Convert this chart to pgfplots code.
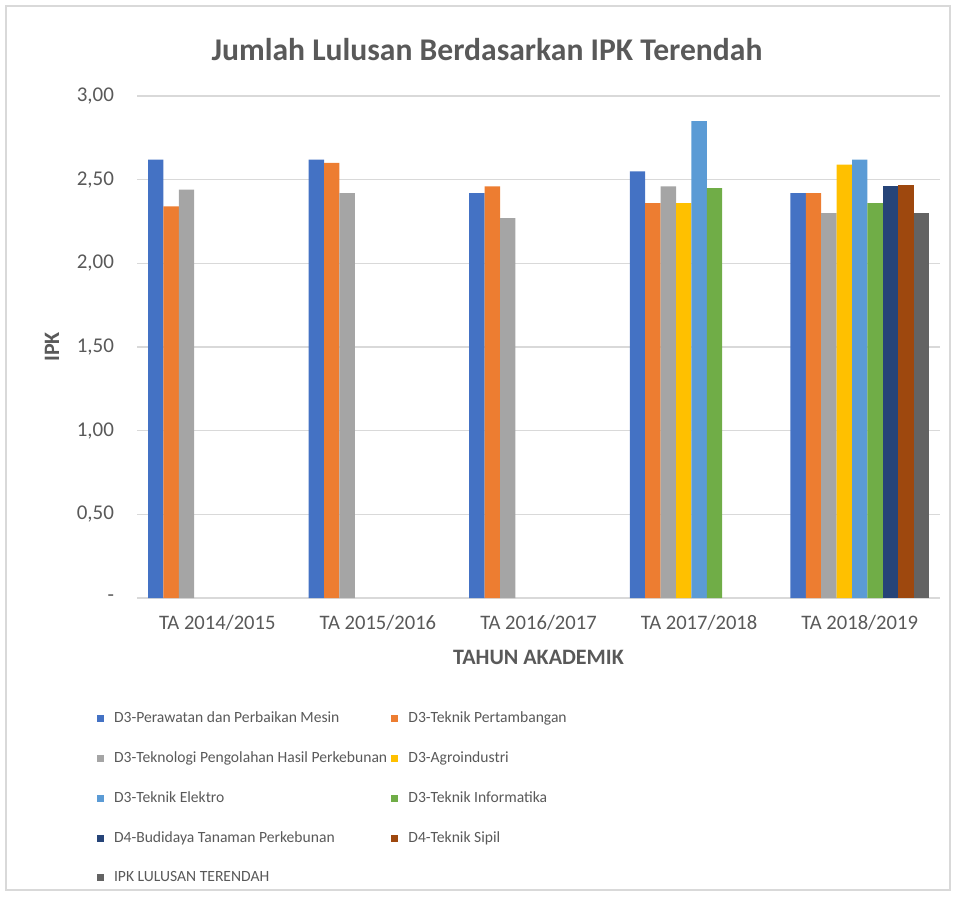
\documentclass[border=0pt]{standalone}
\usepackage{fontspec}
\setmainfont{Carlito}
\usepackage{pgfplots}
\pgfplotsset{compat=1.18}

\definecolor{txt}{HTML}{595959}
\definecolor{gridc}{HTML}{D9D9D9}
\definecolor{c1}{HTML}{4472C4}
\definecolor{c2}{HTML}{ED7D31}
\definecolor{c3}{HTML}{A5A5A5}
\definecolor{c4}{HTML}{FFC000}
\definecolor{c5}{HTML}{5B9BD5}
\definecolor{c6}{HTML}{70AD47}
\definecolor{c7}{HTML}{264478}
\definecolor{c8}{HTML}{9E480E}
\definecolor{c9}{HTML}{636363}

\begin{document}
\begin{tikzpicture}
\useasboundingbox (0,0) rectangle (478pt,448pt);
\draw[gridc, line width=0.6pt] (3pt,3pt) rectangle (475pt,445pt);

\node[font=\fontsize{15.8}{18}\selectfont\bfseries, text=txt] at (243.5pt,423pt)
  {Jumlah Lulusan Berdasarkan IPK Terendah};

\begin{axis}[
    at={(68.5pt,149pt)}, anchor=south west,
    width=401.5pt, height=251pt, scale only axis,
    ybar=0pt, bar width=7.7pt,
    xmin=-0.5, xmax=4.5,
    ymin=0, ymax=3,
    xtick={0,1,2,3,4},
    xticklabels={TA 2014/2015, TA 2015/2016, TA 2016/2017, TA 2017/2018, TA 2018/2019},
    ytick={0,0.5,1,1.5,2,2.5,3},
    yticklabels={{-},{0,50},{1,00},{1,50},{2,00},{2,50},{3,00}},
    x tick label style={font=\fontsize{10.3}{12}\selectfont, text=txt, yshift=-5pt},
    y tick label style={font=\fontsize{10.5}{12}\selectfont, text=txt, xshift=-8pt},
    major tick length=0pt,
    axis x line=bottom, axis y line=left,
    x axis line style={gridc, -, line width=0.8pt},
    y axis line style={draw=none},
    xmajorgrids=false, ymajorgrids=true,
    grid style={gridc, line width=0.8pt},
    xlabel={\textbf{TAHUN AKADEMIK}},
    ylabel={\textbf{IPK}},
    label style={font=\fontsize{11}{13}\selectfont, text=txt},
    xlabel style={yshift=-3pt},
    ylabel style={yshift=2pt},
    legend columns=2,
    legend cell align=left,
    legend style={at={(axis description cs:-0.058,-0.21)}, anchor=north west,
      draw=none, fill=none, font=\fontsize{7.8}{9.5}\selectfont, text=txt,
      row sep=9pt,
      /tikz/every odd column/.append style={column sep=3pt}},
    every axis plot post/.append style={draw=none,
      legend image code/.code={\fill[##1] (0pt,-1.8pt) rectangle (3.6pt,1.8pt);}},
]
\addplot[fill=c1] coordinates {(0,2.62) (1,2.62) (2,2.42) (3,2.55) (4,2.42)};
\addplot[fill=c2] coordinates {(0,2.34) (1,2.60) (2,2.46) (3,2.36) (4,2.42)};
\addplot[fill=c3] coordinates {(0,2.44) (1,2.42) (2,2.27) (3,2.46) (4,2.30)};
\addplot[fill=c4] coordinates {(3,2.36) (4,2.59)};
\addplot[fill=c5] coordinates {(3,2.85) (4,2.62)};
\addplot[fill=c6] coordinates {(3,2.45) (4,2.36)};
\addplot[fill=c7] coordinates {(4,2.46)};
\addplot[fill=c8] coordinates {(4,2.47)};
\addplot[fill=c9] coordinates {(4,2.30)};
\legend{D3-Perawatan dan Perbaikan Mesin, D3-Teknik Pertambangan,
  D3-Teknologi Pengolahan Hasil Perkebunan, D3-Agroindustri,
  D3-Teknik Elektro, D3-Teknik Informatika,
  D4-Budidaya Tanaman Perkebunan, D4-Teknik Sipil,
  IPK LULUSAN TERENDAH}
\end{axis}
\end{tikzpicture}
\end{document}
